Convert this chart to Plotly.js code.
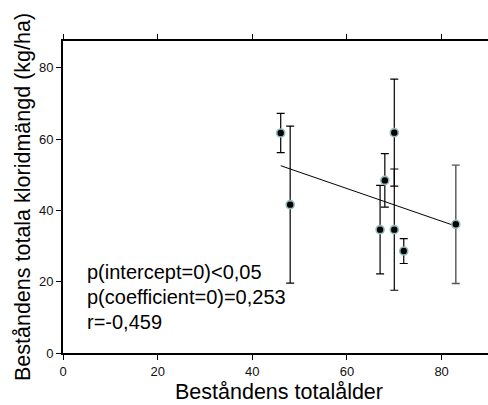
<!DOCTYPE html>
<html>
<head>
<meta charset="utf-8">
<script src="https://cdn.plot.ly/plotly-3.0.1.min.js"></script>
<style>
  html, body { margin: 0; padding: 0; background: #fff; overflow: hidden; }
  #chart { width: 488px; height: 405px; }
</style>
</head>
<body>
<div id="chart"></div>
<script>
// Data
const ageX      = [46, 48, 67, 68, 70, 70, 72, 83];
const chlorideY = [61.7, 41.6, 34.6, 48.4, 61.8, 34.6, 28.6, 36.1];
const errorY    = [5.5, 22, 12.4, 7.5, 15, 17, 3.5, 16.6];
const greyBar   = [false, false, false, false, false, false, false, true];

// Regression line
const regIntercept = 73.6;
const regSlope = -0.458;
const regX = [46, 83];

const statLines = ["p(intercept=0)<0,05", "p(coefficient=0)=0,253", "r=-0,459"];
const statY = [22.6, 15.6, 8.6];

const xTicks = [0, 20, 40, 60, 80];
const yTicks = [0, 20, 40, 60, 80];

function pick(arr, flag) { return arr.filter((_, i) => greyBar[i] === flag); }

const markerStyle = { size: 8, color: '#000', line: { color: '#8fbcbc', width: 1.6 } };

const traces = [
  {
    type: 'scatter', mode: 'lines',
    x: regX, y: regX.map(v => regIntercept + regSlope * v),
    line: { color: '#000', width: 1 }, hoverinfo: 'skip'
  },
  {
    type: 'scatter', mode: 'markers',
    x: pick(ageX, false), y: pick(chlorideY, false),
    error_y: { type: 'data', array: pick(errorY, false), visible: true, color: '#000', thickness: 1.2, width: 4 },
    marker: markerStyle
  },
  {
    type: 'scatter', mode: 'markers',
    x: pick(ageX, true), y: pick(chlorideY, true),
    error_y: { type: 'data', array: pick(errorY, true), visible: true, color: '#555', thickness: 1.4, width: 4 },
    marker: markerStyle
  }
];

const font = "Liberation Sans, Arial, sans-serif";

const layout = {
  width: 488, height: 405,
  margin: { l: 63, r: 0, t: 41, b: 52 },
  paper_bgcolor: '#fff', plot_bgcolor: '#fff',
  showlegend: false,
  font: { family: font, color: '#111', size: 13 },
  xaxis: {
    range: [0, 89.8], tickvals: xTicks, ticktext: xTicks.map(String),
    showgrid: false, zeroline: false, showline: true, linecolor: '#000', linewidth: 2,
    mirror: 'ticks', ticks: 'outside', ticklen: 5, tickcolor: '#000', tickwidth: 1,
    tickfont: { family: font, size: 13, color: '#111' }
  },
  yaxis: {
    range: [0, 87.5], tickvals: yTicks, ticktext: yTicks.map(String),
    showgrid: false, zeroline: false, showline: true, linecolor: '#000', linewidth: 2,
    mirror: false, ticks: 'outside', ticklen: 5, tickcolor: '#000', tickwidth: 1,
    tickfont: { family: font, size: 13, color: '#111' },
    title: { text: 'Beståndens totala kloridmängd (kg/ha)', font: { family: font, size: 21.5, color: '#000' }, standoff: 2 }
  },
  annotations: statLines.map((t, i) => ({
    x: 4.7, y: statY[i], xref: 'x', yref: 'y', xanchor: 'left', yanchor: 'middle',
    text: t, showarrow: false, font: { family: font, size: 20, color: '#000' }
  })).concat([{
    x: 0.5, y: 0, xref: 'paper', yref: 'paper', xanchor: 'center', yanchor: 'middle', yshift: -39, xshift: 3,
    text: 'Beståndens totalålder', showarrow: false, font: { family: font, size: 21.5, color: '#000' }
  }])
};

Plotly.newPlot('chart', traces, layout, { displayModeBar: false, staticPlot: true });
</script>
</body>
</html>
